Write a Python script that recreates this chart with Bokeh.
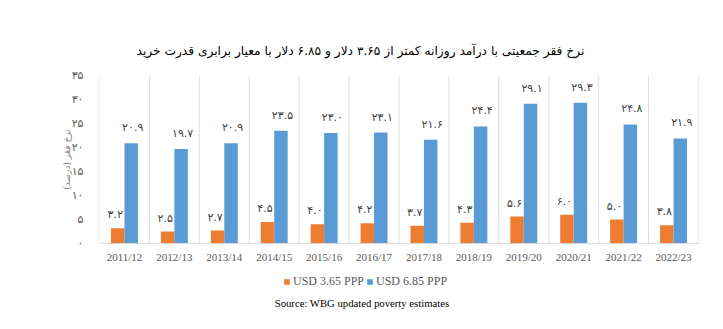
from bokeh.plotting import figure
from bokeh.layouts import column
from bokeh.models import (ColumnDataSource, FactorRange, Range1d, FixedTicker,
                          Legend, LegendItem, Title, Label)
from bokeh.transform import dodge
from bokeh.core.properties import value
from bokeh.embed import file_html
from bokeh.resources import INLINE

# Poverty headcount by fiscal year (percent of population)
years = ["2011/12", "2012/13", "2013/14", "2014/15", "2015/16", "2016/17",
         "2017/18", "2018/19", "2019/20", "2020/21", "2021/22", "2022/23"]
usd_365 = [3.2, 2.5, 2.7, 4.5, 4.0, 4.2, 3.7, 4.3, 5.6, 6.0, 5.0, 3.8]
usd_685 = [20.9, 19.7, 20.9, 23.5, 23.0, 23.1, 21.6, 24.4, 29.1, 29.3, 24.8, 21.9]
y_ticks = [0, 5, 10, 15, 20, 25, 30, 35]
series_names = ["USD 3.65 PPP", "USD 6.85 PPP"]

ORANGE = "#ED7D31"
BLUE = "#5B9BD5"
GRID = "#DEDEDE"
LABEL = "#404040"

FA_DIGITS = str.maketrans("0123456789", "۰۱۲۳۴۵۶۷۸۹")


def fa(s):
    return str(s).translate(FA_DIGITS)


src = ColumnDataSource(dict(
    year=years,
    low=usd_365,
    high=usd_685,
    low_lbl=[fa(f"{v:.1f}") for v in usd_365],
    high_lbl=[fa(f"{v:.1f}") for v in usd_685],
))

W, H_MAIN, H_FOOT = 723, 270, 59
LEFT, RIGHT = 99, 25

# ---- main chart -------------------------------------------------------
p = figure(width=W, height=H_MAIN, output_backend="svg", toolbar_location=None,
           x_range=FactorRange(*years, range_padding=0),
           y_range=Range1d(0, 35),
           min_border_left=LEFT, min_border_right=RIGHT,
           min_border_top=75, min_border_bottom=27)
p.outline_line_color = None
p.background_fill_color = "white"
p.border_fill_color = "white"

title = Title(text="نرخ فقر جمعیتی با درآمد روزانه کمتر از ۳.۶۵ دلار و ۶.۸۵ دلار با معیار برابری قدرت خرید",
              align="left", offset=37, text_font="DejaVu Sans",
              text_font_size="12.2px", text_font_style="normal",
              text_color="#000000", standoff=36)
p.add_layout(title, "above")

# category separators
p.segment(x0=dodge("year", -0.5, range=p.x_range), y0=0,
          x1=dodge("year", -0.5, range=p.x_range), y1=35,
          source=src, line_color=GRID, line_width=1)
last = ColumnDataSource(dict(year=years[-1:]))
p.segment(x0=dodge("year", 0.5, range=p.x_range), y0=0,
          x1=dodge("year", 0.5, range=p.x_range), y1=35,
          source=last, line_color=GRID, line_width=1)

bw = 0.27
p.vbar(x=dodge("year", -bw / 2, range=p.x_range), top="low", width=bw,
       source=src, fill_color=ORANGE, line_color=None)
p.vbar(x=dodge("year", bw / 2, range=p.x_range), top="high", width=bw,
       source=src, fill_color=BLUE, line_color=None)

p.text(x=dodge("year", -bw / 2 - 0.05, range=p.x_range), y="low", text="low_lbl",
       source=src, text_align="center", text_baseline="bottom", y_offset=-7,
       text_font=value("DejaVu Sans"), text_font_size="11px", text_color=LABEL)
p.text(x=dodge("year", bw / 2 + 0.03, range=p.x_range), y="high", text="high_lbl",
       source=src, text_align="center", text_baseline="bottom", y_offset=-9,
       text_font=value("DejaVu Sans"), text_font_size="11px", text_color=LABEL)

p.xgrid.grid_line_color = None
p.ygrid.grid_line_color = None

xa = p.xaxis[0]
xa.axis_line_color = "#D9D9D9"
xa.major_tick_line_color = None
xa.minor_tick_line_color = None
xa.major_tick_out = 0
xa.major_tick_in = 0
xa.major_label_text_font = "Liberation Serif"
xa.major_label_text_font_size = "11px"
xa.major_label_text_color = "#595959"
xa.major_label_standoff = 7

ya = p.yaxis[0]
ya.ticker = FixedTicker(ticks=y_ticks)
ya.major_label_overrides = {t: fa(t) for t in y_ticks}
ya.axis_line_color = None
ya.major_tick_line_color = None
ya.minor_tick_line_color = None
ya.major_tick_out = 0
ya.major_tick_in = 0
ya.major_label_text_font = "DejaVu Sans"
ya.major_label_text_font_size = "11px"
ya.major_label_text_color = "#595959"
ya.major_label_standoff = 16
ya.axis_label = "نرخ فقر (درصد)"
ya.axis_label_text_font = "DejaVu Sans"
ya.axis_label_text_font_size = "9px"
ya.axis_label_text_font_style = "normal"
ya.axis_label_text_color = "#7F7F7F"
ya.axis_label_standoff = -3

# ---- legend and source strip ----------------------------------------
# The strip's frame lines up with the chart frame inside the column, so its
# x range is stretched to make 0..1 span the whole page width.
foot = figure(width=W, height=H_FOOT, output_backend="svg", toolbar_location=None,
              x_range=Range1d(LEFT / W, (W - RIGHT) / W), y_range=Range1d(H_FOOT, 0),
              x_axis_location=None, y_axis_location=None,
              min_border_left=LEFT, min_border_right=RIGHT,
              min_border_top=0, min_border_bottom=0)
foot.grid.visible = False
foot.outline_line_color = None
foot.border_fill_color = "white"

# zero-height anchors that only carry the legend swatch styles
swatch = ColumnDataSource(dict(x=[0.5], top=[0]))
k1 = foot.vbar(x="x", top="top", width=0.001, source=swatch,
               fill_color=ORANGE, line_color=None)
k2 = foot.vbar(x="x", top="top", width=0.001, source=swatch,
               fill_color=BLUE, line_color=None)

legend = Legend(items=[LegendItem(label=series_names[0], renderers=[k1]),
                       LegendItem(label=series_names[1], renderers=[k2])],
                orientation="horizontal", location=(184, 40),
                padding=0, margin=0, spacing=2, border_line_color=None,
                background_fill_alpha=0, label_standoff=3,
                glyph_width=7, glyph_height=7,
                label_text_font="Liberation Serif", label_text_font_size="12px",
                label_text_color="#595959")
foot.add_layout(legend)

foot.add_layout(Label(x=0.5, y=32, text="Source: WBG updated poverty estimates",
                      text_align="center", text_baseline="middle",
                      text_font="Liberation Serif", text_font_size="10.7px",
                      text_color="#000000"))

layout = column(p, foot, spacing=0)
open("out.html", "w").write(file_html(layout, INLINE))
